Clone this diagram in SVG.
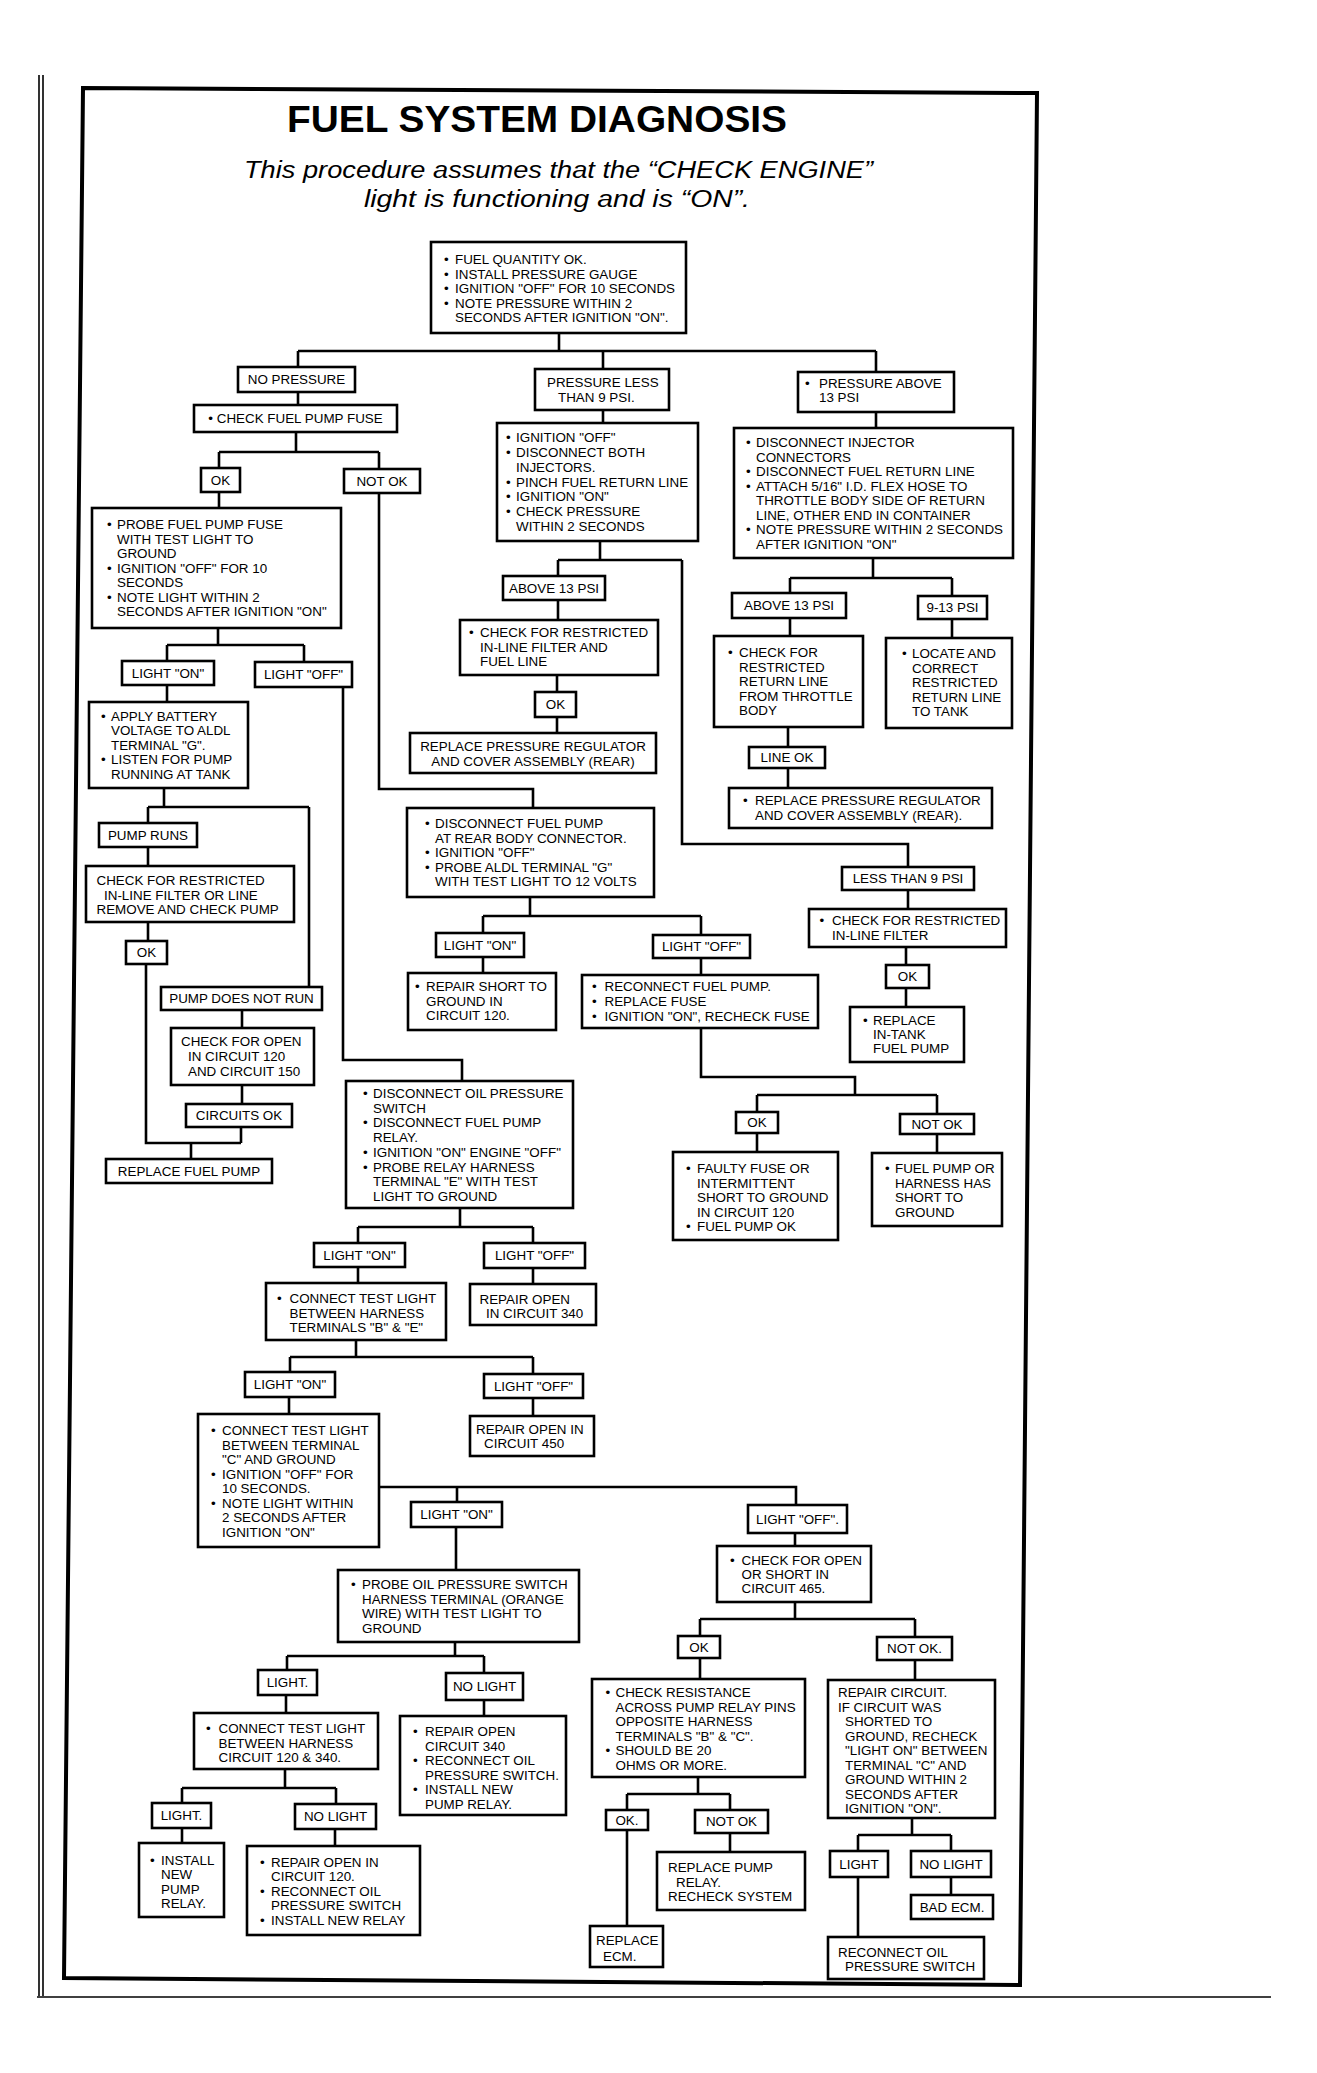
<svg xmlns="http://www.w3.org/2000/svg" width="1317" height="2073" viewBox="0 0 1317 2073">
<style>
.t{font-family:"Liberation Sans",Arial,sans-serif;font-size:13.4px;fill:#000}
.c{font-family:"Liberation Sans",Arial,sans-serif;font-size:13.4px;fill:#000;text-anchor:middle}
.box{fill:#fff;stroke:#000;stroke-width:2.6}
.ln{fill:none;stroke:#000;stroke-width:2.6}
.ttl{font-family:"Liberation Sans",Arial,sans-serif;font-weight:bold;font-size:37px;fill:#000}
.sub{font-family:"Liberation Sans",Arial,sans-serif;font-style:italic;font-size:23px;fill:#000}
</style>
<rect width="1317" height="2073" fill="#fff"/>
<g id="page">
<path d="M39,75V1996M43,75V1996" stroke="#000" stroke-width="1.6" fill="none"/>
<path d="M37,1997H1271" stroke="#000" stroke-width="1.4" fill="none"/>
<path d="M83,88L1037,93L1020,1985L64,1978Z" fill="none" stroke="#000" stroke-width="4"/>
<text class="ttl" x="287" y="132" textLength="500" lengthAdjust="spacingAndGlyphs">FUEL SYSTEM DIAGNOSIS</text>
<text class="sub" x="244" y="178" textLength="629" lengthAdjust="spacingAndGlyphs">This procedure assumes that the “CHECK ENGINE”</text>
<text class="sub" x="364" y="207" textLength="386" lengthAdjust="spacingAndGlyphs">light is functioning and is “ON”.</text>
</g>
<g id="connectors">
<path class="ln" d="M559,333V351M298,351H876M298,351V367M603,351V369M876,351V372"/>
<path class="ln" d="M298,392V405M296,432V452M219,452H379M219,452V468M379,452V469M219,492V508"/>
<path class="ln" d="M218,628V645M167,645H304M167,645V661M304,645V662M167,685V702"/>
<path class="ln" d="M164,788V807M148,807H309M148,807V823M309,807V987M148,847V866M148,922V941"/>
<path class="ln" d="M146,964V1143H241M191,1143V1159M242,1010V1028M242,1085V1104M241,1127V1143"/>
<path class="ln" d="M343,687V1060H462V1081"/>
<path class="ln" d="M379,493V789H533V808"/>
<path class="ln" d="M603,410V423M600,541V560M558,560H682M558,560V576M682,560V844H908V867M558,600V620M557,675V692M557,717V733"/>
<path class="ln" d="M530,897V916M483,916H701M483,916V933M701,916V935M483,957V973M701,958V975"/>
<path class="ln" d="M701,1028V1077H855V1095M757,1095H937M757,1095V1112M937,1095V1114M757,1133V1152M937,1134V1153"/>
<path class="ln" d="M876,412V428M873,558V578M790,578H952M790,578V593M952,578V596M790,618V636M952,619V638M788,727V747M788,768V788"/>
<path class="ln" d="M908,890V909M906,947V965M906,988V1007"/>
<path class="ln" d="M460,1208V1227M358,1227H533M358,1227V1243M533,1227V1243M358,1267V1283M533,1268V1284"/>
<path class="ln" d="M356,1340V1357M290,1357H533M290,1357V1372M533,1357V1374M289,1397V1414M533,1398V1416"/>
<path class="ln" d="M379,1487H796V1505M457,1487V1502M456,1527V1570"/>
<path class="ln" d="M455,1642V1656M287,1656H484M287,1656V1670M484,1656V1673M286,1695V1713M484,1700V1716"/>
<path class="ln" d="M285,1769V1788M182,1788H336M182,1788V1803M336,1788V1804M182,1828V1843M335,1829V1846"/>
<path class="ln" d="M795,1533V1546M795,1602V1619M700,1619H915M700,1619V1636M915,1619V1637M700,1658V1679M915,1660V1680"/>
<path class="ln" d="M698,1777V1794M627,1794H730M627,1794V1810M730,1794V1810M627,1830V1926M730,1833V1852"/>
<path class="ln" d="M912,1818V1835M858,1835H951M858,1835V1851M951,1835V1851M858,1877V1937M951,1877V1895"/>
</g>
<g id="n1"><rect class="box" x="431" y="242" width="255" height="91"/>
<text class="t"><tspan x="444" y="264">•</tspan><tspan x="455" y="264">FUEL QUANTITY OK.</tspan><tspan x="444" y="278.5">•</tspan><tspan x="455" y="278.5">INSTALL PRESSURE GAUGE</tspan><tspan x="444" y="293">•</tspan><tspan x="455" y="293">IGNITION "OFF" FOR 10 SECONDS</tspan><tspan x="444" y="307.5">•</tspan><tspan x="455" y="307.5">NOTE PRESSURE WITHIN 2</tspan><tspan x="455" y="322">SECONDS AFTER IGNITION "ON".</tspan></text></g>
<g id="n2"><rect class="box" x="238" y="367" width="117" height="25"/><text class="c" x="296.5" y="384.3">NO PRESSURE</text></g>
<g id="n3"><rect class="box" x="535" y="369" width="134" height="41"/><text class="t"><tspan x="547" y="387">PRESSURE LESS</tspan><tspan x="558" y="402">THAN 9 PSI.</tspan></text></g>
<g id="n4"><rect class="box" x="798" y="372" width="156" height="40"/><text class="t"><tspan x="805" y="388">•</tspan><tspan x="819" y="388">PRESSURE ABOVE</tspan><tspan x="819" y="402">13 PSI</tspan></text></g>
<g id="n5"><rect class="box" x="194" y="405" width="203" height="27"/><text class="c" x="295.5" y="423.3">• CHECK FUEL PUMP FUSE</text></g>
<g id="n6"><rect class="box" x="201" y="468" width="39" height="24"/><text class="c" x="220.5" y="484.8">OK</text></g>
<g id="n7"><rect class="box" x="344" y="469" width="76" height="24"/><text class="c" x="382" y="485.8">NOT OK</text></g>
<g id="n8"><rect class="box" x="92" y="508" width="249" height="120"/>
<text class="t"><tspan x="107" y="529">•</tspan><tspan x="117" y="529">PROBE FUEL PUMP FUSE</tspan><tspan x="117" y="543.5">WITH TEST LIGHT TO</tspan><tspan x="117" y="558">GROUND</tspan><tspan x="107" y="572.5">•</tspan><tspan x="117" y="572.5">IGNITION "OFF" FOR 10</tspan><tspan x="117" y="587">SECONDS</tspan><tspan x="107" y="601.5">•</tspan><tspan x="117" y="601.5">NOTE LIGHT WITHIN 2</tspan><tspan x="117" y="616">SECONDS AFTER IGNITION "ON"</tspan></text></g>
<g id="n9"><rect class="box" x="122" y="661" width="92" height="24"/><text class="c" x="168" y="677.8">LIGHT "ON"</text></g>
<g id="n10"><rect class="box" x="255" y="662" width="97" height="25"/><text class="c" x="303.5" y="679.3">LIGHT "OFF"</text></g>
<g id="n11"><rect class="box" x="89" y="702" width="159" height="86"/>
<text class="t"><tspan x="101" y="720.5">•</tspan><tspan x="111" y="720.5">APPLY BATTERY</tspan><tspan x="111" y="735">VOLTAGE TO ALDL</tspan><tspan x="111" y="749.5">TERMINAL "G".</tspan><tspan x="101" y="764">•</tspan><tspan x="111" y="764">LISTEN FOR PUMP</tspan><tspan x="111" y="778.5">RUNNING AT TANK</tspan></text></g>
<g id="n12"><rect class="box" x="99" y="823" width="98" height="24"/><text class="c" x="148" y="839.8">PUMP RUNS</text></g>
<g id="n13"><rect class="box" x="86" y="866" width="208" height="56"/>
<text class="t"><tspan x="96.5" y="885">CHECK FOR RESTRICTED</tspan><tspan x="104" y="899.5">IN-LINE FILTER OR LINE</tspan><tspan x="96.5" y="914">REMOVE AND CHECK PUMP</tspan></text></g>
<g id="n14"><rect class="box" x="126" y="941" width="41" height="23"/><text class="c" x="146.5" y="957.3">OK</text></g>
<g id="n15"><rect class="box" x="161" y="987" width="161" height="23"/><text class="c" x="241.5" y="1003.3">PUMP DOES NOT RUN</text></g>
<g id="n16"><rect class="box" x="171" y="1028" width="143" height="57"/>
<text class="t"><tspan x="181" y="1046">CHECK FOR OPEN</tspan><tspan x="188" y="1061">IN CIRCUIT 120</tspan><tspan x="188" y="1076">AND CIRCUIT 150</tspan></text></g>
<g id="n17"><rect class="box" x="186" y="1104" width="106" height="23"/><text class="c" x="239" y="1120.3">CIRCUITS OK</text></g>
<g id="n18"><rect class="box" x="106" y="1159" width="166" height="24"/><text class="c" x="189" y="1175.8">REPLACE FUEL PUMP</text></g>
<g id="n19"><rect class="box" x="497" y="423" width="201" height="118"/>
<text class="t"><tspan x="506" y="442">•</tspan><tspan x="516" y="442">IGNITION "OFF"</tspan><tspan x="506" y="457">•</tspan><tspan x="516" y="457">DISCONNECT BOTH</tspan><tspan x="516" y="472">INJECTORS.</tspan><tspan x="506" y="487">•</tspan><tspan x="516" y="487">PINCH FUEL RETURN LINE</tspan><tspan x="506" y="501">•</tspan><tspan x="516" y="501">IGNITION "ON"</tspan><tspan x="506" y="516">•</tspan><tspan x="516" y="516">CHECK PRESSURE</tspan><tspan x="516" y="531">WITHIN 2 SECONDS</tspan></text></g>
<g id="n20"><rect class="box" x="503" y="576" width="102" height="24"/><text class="c" x="554" y="592.8">ABOVE 13 PSI</text></g>
<g id="n21"><rect class="box" x="460" y="620" width="198" height="55"/>
<text class="t"><tspan x="469" y="637">•</tspan><tspan x="480" y="637">CHECK FOR RESTRICTED</tspan><tspan x="480" y="651.5">IN-LINE FILTER AND</tspan><tspan x="480" y="666">FUEL LINE</tspan></text></g>
<g id="n22"><rect class="box" x="535" y="692" width="41" height="25"/><text class="c" x="555.5" y="709.3">OK</text></g>
<g id="n23"><rect class="box" x="410" y="733" width="246" height="40"/>
<text class="c"><tspan x="533" y="751">REPLACE PRESSURE REGULATOR</tspan><tspan x="533" y="765.5">AND COVER ASSEMBLY (REAR)</tspan></text></g>
<g id="n24"><rect class="box" x="407" y="808" width="247" height="89"/>
<text class="t"><tspan x="425" y="828">•</tspan><tspan x="435" y="828">DISCONNECT FUEL PUMP</tspan><tspan x="435" y="842.5">AT REAR BODY CONNECTOR.</tspan><tspan x="425" y="857">•</tspan><tspan x="435" y="857">IGNITION "OFF"</tspan><tspan x="425" y="871.5">•</tspan><tspan x="435" y="871.5">PROBE ALDL TERMINAL "G"</tspan><tspan x="435" y="886">WITH TEST LIGHT TO 12 VOLTS</tspan></text></g>
<g id="n25"><rect class="box" x="436" y="933" width="88" height="24"/><text class="c" x="480" y="949.8">LIGHT "ON"</text></g>
<g id="n26"><rect class="box" x="408" y="973" width="148" height="57"/>
<text class="t"><tspan x="415" y="991">•</tspan><tspan x="426" y="991">REPAIR SHORT TO</tspan><tspan x="426" y="1005.5">GROUND IN</tspan><tspan x="426" y="1020">CIRCUIT 120.</tspan></text></g>
<g id="n27"><rect class="box" x="653" y="935" width="97" height="23"/><text class="c" x="701.5" y="951.3">LIGHT "OFF"</text></g>
<g id="n28"><rect class="box" x="582" y="975" width="236" height="53"/>
<text class="t"><tspan x="592" y="991">•</tspan><tspan x="604.5" y="991">RECONNECT FUEL PUMP.</tspan><tspan x="592" y="1006">•</tspan><tspan x="604.5" y="1006">REPLACE FUSE</tspan><tspan x="592" y="1021">•</tspan><tspan x="604.5" y="1021">IGNITION "ON", RECHECK FUSE</tspan></text></g>
<g id="n29"><rect class="box" x="736" y="1112" width="42" height="21"/><text class="c" x="757" y="1127.3">OK</text></g>
<g id="n30"><rect class="box" x="900" y="1114" width="74" height="20"/><text class="c" x="937" y="1128.8">NOT OK</text></g>
<g id="n31"><rect class="box" x="673" y="1152" width="165" height="88"/>
<text class="t"><tspan x="686" y="1173">•</tspan><tspan x="697" y="1173">FAULTY FUSE OR</tspan><tspan x="697" y="1187.5">INTERMITTENT</tspan><tspan x="697" y="1202">SHORT TO GROUND</tspan><tspan x="697" y="1216.5">IN CIRCUIT 120</tspan><tspan x="686" y="1231">•</tspan><tspan x="697" y="1231">FUEL PUMP OK</tspan></text></g>
<g id="n32"><rect class="box" x="872" y="1153" width="130" height="73"/>
<text class="t"><tspan x="885" y="1173">•</tspan><tspan x="895" y="1173">FUEL PUMP OR</tspan><tspan x="895" y="1187.5">HARNESS HAS</tspan><tspan x="895" y="1202">SHORT TO</tspan><tspan x="895" y="1216.5">GROUND</tspan></text></g>
<g id="n33"><rect class="box" x="734" y="428" width="279" height="130"/>
<text class="t"><tspan x="746" y="447">•</tspan><tspan x="756" y="447">DISCONNECT INJECTOR</tspan><tspan x="756" y="461.5">CONNECTORS</tspan><tspan x="746" y="476">•</tspan><tspan x="756" y="476">DISCONNECT FUEL RETURN LINE</tspan><tspan x="746" y="490.5">•</tspan><tspan x="756" y="490.5">ATTACH 5/16" I.D. FLEX HOSE TO</tspan><tspan x="756" y="505">THROTTLE BODY SIDE OF RETURN</tspan><tspan x="756" y="519.5">LINE, OTHER END IN CONTAINER</tspan><tspan x="746" y="534">•</tspan><tspan x="756" y="534">NOTE PRESSURE WITHIN 2 SECONDS</tspan><tspan x="756" y="548.5">AFTER IGNITION "ON"</tspan></text></g>
<g id="n34"><rect class="box" x="732" y="593" width="114" height="25"/><text class="c" x="789" y="610.3">ABOVE 13 PSI</text></g>
<g id="n35"><rect class="box" x="918" y="596" width="69" height="23"/><text class="c" x="952.5" y="612.3">9-13 PSI</text></g>
<g id="n36"><rect class="box" x="714" y="636" width="149" height="91"/>
<text class="t"><tspan x="728" y="657">•</tspan><tspan x="739" y="657">CHECK FOR</tspan><tspan x="739" y="671.5">RESTRICTED</tspan><tspan x="739" y="686">RETURN LINE</tspan><tspan x="739" y="700.5">FROM THROTTLE</tspan><tspan x="739" y="715">BODY</tspan></text></g>
<g id="n37"><rect class="box" x="886" y="638" width="126" height="90"/>
<text class="t"><tspan x="902" y="658">•</tspan><tspan x="912" y="658">LOCATE AND</tspan><tspan x="912" y="672.5">CORRECT</tspan><tspan x="912" y="687">RESTRICTED</tspan><tspan x="912" y="701.5">RETURN LINE</tspan><tspan x="912" y="716">TO TANK</tspan></text></g>
<g id="n38"><rect class="box" x="749" y="747" width="76" height="21"/><text class="c" x="787" y="762.3">LINE OK</text></g>
<g id="n39"><rect class="box" x="729" y="788" width="263" height="40"/>
<text class="t"><tspan x="743" y="805">•</tspan><tspan x="755" y="805">REPLACE PRESSURE REGULATOR</tspan><tspan x="755" y="820">AND COVER ASSEMBLY (REAR).</tspan></text></g>
<g id="n40"><rect class="box" x="842" y="867" width="132" height="23"/><text class="c" x="908" y="883.3">LESS THAN 9 PSI</text></g>
<g id="n41"><rect class="box" x="809" y="909" width="197" height="38"/>
<text class="t"><tspan x="819.5" y="925">•</tspan><tspan x="832" y="925">CHECK FOR RESTRICTED</tspan><tspan x="832" y="940">IN-LINE FILTER</tspan></text></g>
<g id="n42"><rect class="box" x="886" y="965" width="43" height="23"/><text class="c" x="907.5" y="981.3">OK</text></g>
<g id="n43"><rect class="box" x="850" y="1007" width="114" height="55"/>
<text class="t"><tspan x="863" y="1025">•</tspan><tspan x="873" y="1025">REPLACE</tspan><tspan x="873" y="1039">IN-TANK</tspan><tspan x="873" y="1053">FUEL PUMP</tspan></text></g>
<g id="n44"><rect class="box" x="346" y="1081" width="227" height="127"/>
<text class="t"><tspan x="363" y="1098">•</tspan><tspan x="373" y="1098">DISCONNECT OIL PRESSURE</tspan><tspan x="373" y="1112.7">SWITCH</tspan><tspan x="363" y="1127.4">•</tspan><tspan x="373" y="1127.4">DISCONNECT FUEL PUMP</tspan><tspan x="373" y="1142.1">RELAY.</tspan><tspan x="363" y="1156.8">•</tspan><tspan x="373" y="1156.8">IGNITION "ON" ENGINE "OFF"</tspan><tspan x="363" y="1171.5">•</tspan><tspan x="373" y="1171.5">PROBE RELAY HARNESS</tspan><tspan x="373" y="1186.2">TERMINAL "E" WITH TEST</tspan><tspan x="373" y="1200.9">LIGHT TO GROUND</tspan></text></g>
<g id="n45"><rect class="box" x="314" y="1243" width="91" height="24"/><text class="c" x="359.5" y="1259.8">LIGHT "ON"</text></g>
<g id="n46"><rect class="box" x="484" y="1243" width="101" height="25"/><text class="c" x="534.5" y="1260.3">LIGHT "OFF"</text></g>
<g id="n47"><rect class="box" x="266" y="1283" width="180" height="57"/>
<text class="t"><tspan x="277" y="1303">•</tspan><tspan x="289.5" y="1303">CONNECT TEST LIGHT</tspan><tspan x="289.5" y="1317.5">BETWEEN HARNESS</tspan><tspan x="289.5" y="1332">TERMINALS "B" &amp; "E"</tspan></text></g>
<g id="n48"><rect class="box" x="470" y="1284" width="126" height="41"/>
<text class="t"><tspan x="479.5" y="1304">REPAIR OPEN</tspan><tspan x="486" y="1318">IN CIRCUIT 340</tspan></text></g>
<g id="n49"><rect class="box" x="245" y="1372" width="90" height="25"/><text class="c" x="290" y="1389.3">LIGHT "ON"</text></g>
<g id="n50"><rect class="box" x="484" y="1374" width="99" height="24"/><text class="c" x="533.5" y="1390.8">LIGHT "OFF"</text></g>
<g id="n51"><rect class="box" x="198" y="1414" width="181" height="133"/>
<text class="t"><tspan x="211" y="1435">•</tspan><tspan x="222" y="1435">CONNECT TEST LIGHT</tspan><tspan x="222" y="1449.5">BETWEEN TERMINAL</tspan><tspan x="222" y="1464">"C" AND GROUND</tspan><tspan x="211" y="1478.5">•</tspan><tspan x="222" y="1478.5">IGNITION "OFF" FOR</tspan><tspan x="222" y="1493">10 SECONDS.</tspan><tspan x="211" y="1507.5">•</tspan><tspan x="222" y="1507.5">NOTE LIGHT WITHIN</tspan><tspan x="222" y="1522">2 SECONDS AFTER</tspan><tspan x="222" y="1536.5">IGNITION "ON"</tspan></text></g>
<g id="n52"><rect class="box" x="470" y="1416" width="124" height="40"/>
<text class="t"><tspan x="476" y="1434">REPAIR OPEN IN</tspan><tspan x="484" y="1448">CIRCUIT 450</tspan></text></g>
<g id="n53"><rect class="box" x="411" y="1502" width="91" height="25"/><text class="c" x="456.5" y="1519.3">LIGHT "ON"</text></g>
<g id="n54"><rect class="box" x="748" y="1505" width="99" height="28"/><text class="c" x="797.5" y="1523.8">LIGHT "OFF".</text></g>
<g id="n55"><rect class="box" x="338" y="1570" width="241" height="72"/>
<text class="t"><tspan x="351" y="1589">•</tspan><tspan x="362" y="1589">PROBE OIL PRESSURE SWITCH</tspan><tspan x="362" y="1603.5">HARNESS TERMINAL (ORANGE</tspan><tspan x="362" y="1618">WIRE) WITH TEST LIGHT TO</tspan><tspan x="362" y="1632.5">GROUND</tspan></text></g>
<g id="n56"><rect class="box" x="258" y="1670" width="59" height="25"/><text class="c" x="287.5" y="1687.3">LIGHT.</text></g>
<g id="n57"><rect class="box" x="446" y="1673" width="77" height="27"/><text class="c" x="484.5" y="1691.3">NO LIGHT</text></g>
<g id="n58"><rect class="box" x="194" y="1713" width="184" height="56"/>
<text class="t"><tspan x="206" y="1733">•</tspan><tspan x="218.5" y="1733">CONNECT TEST LIGHT</tspan><tspan x="218.5" y="1747.5">BETWEEN HARNESS</tspan><tspan x="218.5" y="1762">CIRCUIT 120 &amp; 340.</tspan></text></g>
<g id="n59"><rect class="box" x="400" y="1716" width="166" height="99"/>
<text class="t"><tspan x="413" y="1736">•</tspan><tspan x="425" y="1736">REPAIR OPEN</tspan><tspan x="425" y="1750.5">CIRCUIT 340</tspan><tspan x="413" y="1765">•</tspan><tspan x="425" y="1765">RECONNECT OIL</tspan><tspan x="425" y="1779.5">PRESSURE SWITCH.</tspan><tspan x="413" y="1794">•</tspan><tspan x="425" y="1794">INSTALL NEW</tspan><tspan x="425" y="1808.5">PUMP RELAY.</tspan></text></g>
<g id="n60"><rect class="box" x="152" y="1803" width="59" height="25"/><text class="c" x="181.5" y="1820.3">LIGHT.</text></g>
<g id="n61"><rect class="box" x="295" y="1804" width="81" height="25"/><text class="c" x="335.5" y="1821.3">NO LIGHT</text></g>
<g id="n62"><rect class="box" x="139" y="1843" width="85" height="74"/>
<text class="t"><tspan x="150" y="1864.5">•</tspan><tspan x="161" y="1864.5">INSTALL</tspan><tspan x="161" y="1879">NEW</tspan><tspan x="161" y="1893.5">PUMP</tspan><tspan x="161" y="1908">RELAY.</tspan></text></g>
<g id="n63"><rect class="box" x="247" y="1846" width="173" height="89"/>
<text class="t"><tspan x="260" y="1866.5">•</tspan><tspan x="271" y="1866.5">REPAIR OPEN IN</tspan><tspan x="271" y="1881">CIRCUIT 120.</tspan><tspan x="260" y="1895.5">•</tspan><tspan x="271" y="1895.5">RECONNECT OIL</tspan><tspan x="271" y="1910">PRESSURE SWITCH</tspan><tspan x="260" y="1924.5">•</tspan><tspan x="271" y="1924.5">INSTALL NEW RELAY</tspan></text></g>
<g id="n64"><rect class="box" x="717" y="1546" width="154" height="56"/>
<text class="t"><tspan x="730" y="1565">•</tspan><tspan x="741.5" y="1565">CHECK FOR OPEN</tspan><tspan x="741.5" y="1579">OR SHORT IN</tspan><tspan x="741.5" y="1593">CIRCUIT 465.</tspan></text></g>
<g id="n65"><rect class="box" x="678" y="1636" width="42" height="22"/><text class="c" x="699" y="1651.8">OK</text></g>
<g id="n66"><rect class="box" x="877" y="1637" width="75" height="23"/><text class="c" x="914.5" y="1653.3">NOT OK.</text></g>
<g id="n67"><rect class="box" x="592" y="1679" width="213" height="98"/>
<text class="t"><tspan x="605.5" y="1697">•</tspan><tspan x="615.5" y="1697">CHECK RESISTANCE</tspan><tspan x="615.5" y="1711.5">ACROSS PUMP RELAY PINS</tspan><tspan x="615.5" y="1726">OPPOSITE HARNESS</tspan><tspan x="615.5" y="1740.5">TERMINALS "B" &amp; "C".</tspan><tspan x="605.5" y="1755">•</tspan><tspan x="615.5" y="1755">SHOULD BE 20</tspan><tspan x="615.5" y="1769.5">OHMS OR MORE.</tspan></text></g>
<g id="n68"><rect class="box" x="606" y="1810" width="42" height="20"/><text class="c" x="627" y="1824.8">OK.</text></g>
<g id="n69"><rect class="box" x="695" y="1810" width="73" height="23"/><text class="c" x="731.5" y="1826.3">NOT OK</text></g>
<g id="n70"><rect class="box" x="590" y="1926" width="73" height="41"/>
<text class="t"><tspan x="596" y="1945">REPLACE</tspan><tspan x="603" y="1961">ECM.</tspan></text></g>
<g id="n71"><rect class="box" x="657" y="1852" width="148" height="58"/>
<text class="t"><tspan x="668" y="1872">REPLACE PUMP</tspan><tspan x="676" y="1886.5">RELAY.</tspan><tspan x="668" y="1901">RECHECK SYSTEM</tspan></text></g>
<g id="n72"><rect class="box" x="828" y="1680" width="167" height="138"/>
<text class="t"><tspan x="838" y="1697">REPAIR CIRCUIT.</tspan><tspan x="838" y="1711.5">IF CIRCUIT WAS</tspan><tspan x="845" y="1726">SHORTED TO</tspan><tspan x="845" y="1740.5">GROUND, RECHECK</tspan><tspan x="845" y="1755">"LIGHT ON" BETWEEN</tspan><tspan x="845" y="1769.5">TERMINAL "C" AND</tspan><tspan x="845" y="1784">GROUND WITHIN 2</tspan><tspan x="845" y="1798.5">SECONDS AFTER</tspan><tspan x="845" y="1813">IGNITION "ON".</tspan></text></g>
<g id="n73"><rect class="box" x="830" y="1851" width="58" height="26"/><text class="c" x="859" y="1868.8">LIGHT</text></g>
<g id="n74"><rect class="box" x="911" y="1851" width="80" height="26"/><text class="c" x="951" y="1868.8">NO LIGHT</text></g>
<g id="n75"><rect class="box" x="828" y="1937" width="156" height="42"/>
<text class="t"><tspan x="838" y="1957">RECONNECT OIL</tspan><tspan x="845" y="1971">PRESSURE SWITCH</tspan></text></g>
<g id="n76"><rect class="box" x="911" y="1895" width="82" height="24"/><text class="c" x="952" y="1911.8">BAD ECM.</text></g>
</svg>
